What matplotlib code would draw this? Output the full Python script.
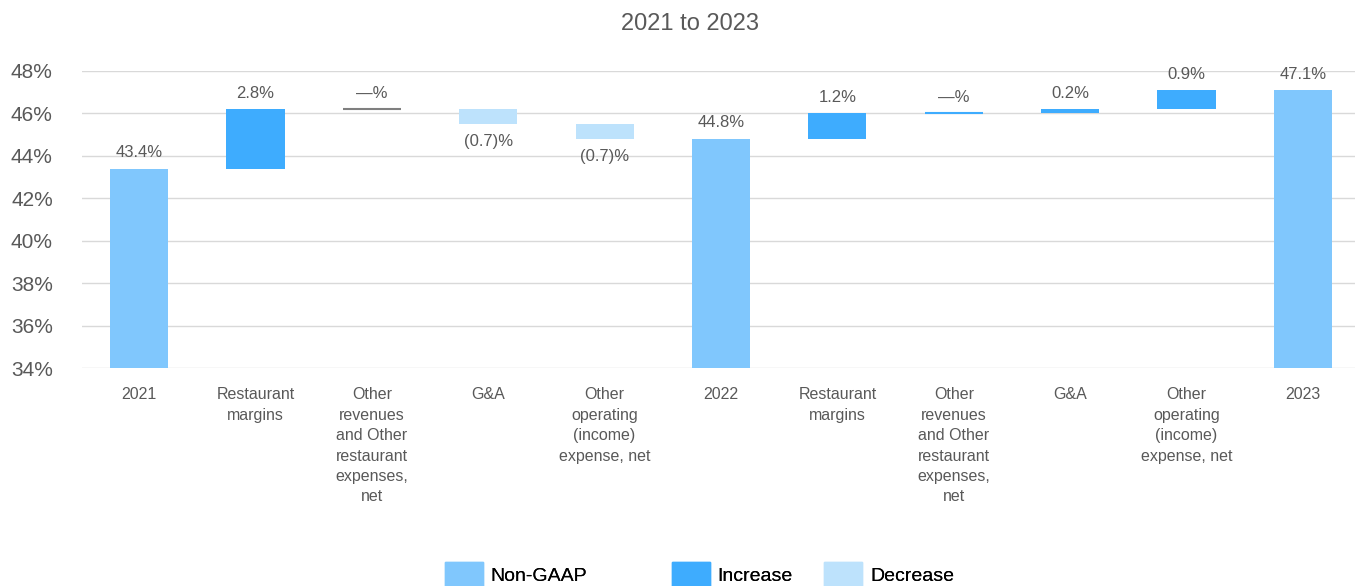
import matplotlib.pyplot as plt
from matplotlib.patches import Patch

plt.rcParams['font.family'] = ['Liberation Sans', 'DejaVu Sans']

# categories and step values (percentage points)
categories = ["2021", "Restaurant\nmargins",
              "Other\nrevenues\nand Other\nrestaurant\nexpenses,\nnet",
              "G&A", "Other\noperating\n(income)\nexpense, net",
              "2022", "Restaurant\nmargins",
              "Other\nrevenues\nand Other\nrestaurant\nexpenses,\nnet",
              "G&A", "Other\noperating\n(income)\nexpense, net",
              "2023"]
kinds = ["total", "step", "step", "step", "step", "total",
         "step", "step", "step", "step", "total"]
values = [43.4, 2.8, 0.0, -0.7, -0.7, 44.8, 1.2, 0.0, 0.2, 0.9, 47.1]
labels = ["43.4%", "2.8%", "—%", "(0.7)%", "(0.7)%", "44.8%",
          "1.2%", "—%", "0.2%", "0.9%", "47.1%"]
legend_names = ["Non-GAAP", "Increase", "Decrease"]

c_total = "#80c7fd"
c_inc = "#3eacfe"
c_dec = "#bde2fc"
txt_gray = "#595959"

fig = plt.figure(figsize=(13.56, 5.86), dpi=100)
ax = fig.add_axes([0.0605, 0.372, 0.939, 0.507])

level = 0.0
width = 0.5
lab_fs = 12
for i, (k, v, lab) in enumerate(zip(kinds, values, labels)):
    if k == "total":
        level = v
        ax.bar(i, v - 34, bottom=34, width=width, color=c_total, zorder=3)
        ax.annotate(lab, (i, v), xytext=(0, 6), textcoords="offset points",
                    ha="center", va="bottom", fontsize=lab_fs, color=txt_gray)
        continue
    start = level
    level = level + v
    if v == 0:
        line_c = "#7f7f7f" if i < 5 else c_inc
        ax.hlines(start, i - width / 2, i + width / 2, color=line_c, lw=1.5, zorder=3)
        ax.annotate(lab, (i, start), xytext=(0, 6), textcoords="offset points",
                    ha="center", va="bottom", fontsize=lab_fs, color=txt_gray)
    elif v > 0:
        ax.bar(i, v, bottom=start, width=width, color=c_inc, zorder=3)
        ax.annotate(lab, (i, level), xytext=(0, 6), textcoords="offset points",
                    ha="center", va="bottom", fontsize=lab_fs, color=txt_gray)
    else:
        ax.bar(i, v, bottom=start, width=width, color=c_dec, zorder=3)
        ax.annotate(lab, (i, level), xytext=(0, -7), textcoords="offset points",
                    ha="center", va="top", fontsize=lab_fs, color=txt_gray)

ax.set_ylim(34, 48)
ax.set_xlim(-0.49, 10.45)
ax.set_yticks(range(34, 49, 2))
ax.set_yticklabels([f"{t}%" for t in range(34, 49, 2)], fontsize=15, color=txt_gray)
ax.set_xticks(range(len(categories)))
ax.set_xticklabels(categories, fontsize=11.5, color=txt_gray, linespacing=1.45)
ax.tick_params(axis="x", length=0, pad=14)
ax.tick_params(axis="y", length=0, pad=21)
ax.grid(axis="y", color="#d9d9d9", lw=1, zorder=0)
for s in ax.spines.values():
    s.set_visible(False)

fig.suptitle("2021 to 2023", x=0.509, y=0.978, fontsize=17, color=txt_gray)

# three single-entry legends to match the uneven spacing
colors = [c_total, c_inc, c_dec]
lx = [0.328, 0.4956, 0.608]
for name, col, x in zip(legend_names, colors, lx):
    leg = fig.legend([Patch(color=col)], [name], loc="lower left",
                     bbox_to_anchor=(x, 0.0), frameon=False, fontsize=14,
                     handlelength=1.95, handleheight=1.5, handletextpad=0.4,
                     borderpad=0, borderaxespad=0)
    fig.add_artist(leg)

fig.savefig("out.png", dpi=100)
